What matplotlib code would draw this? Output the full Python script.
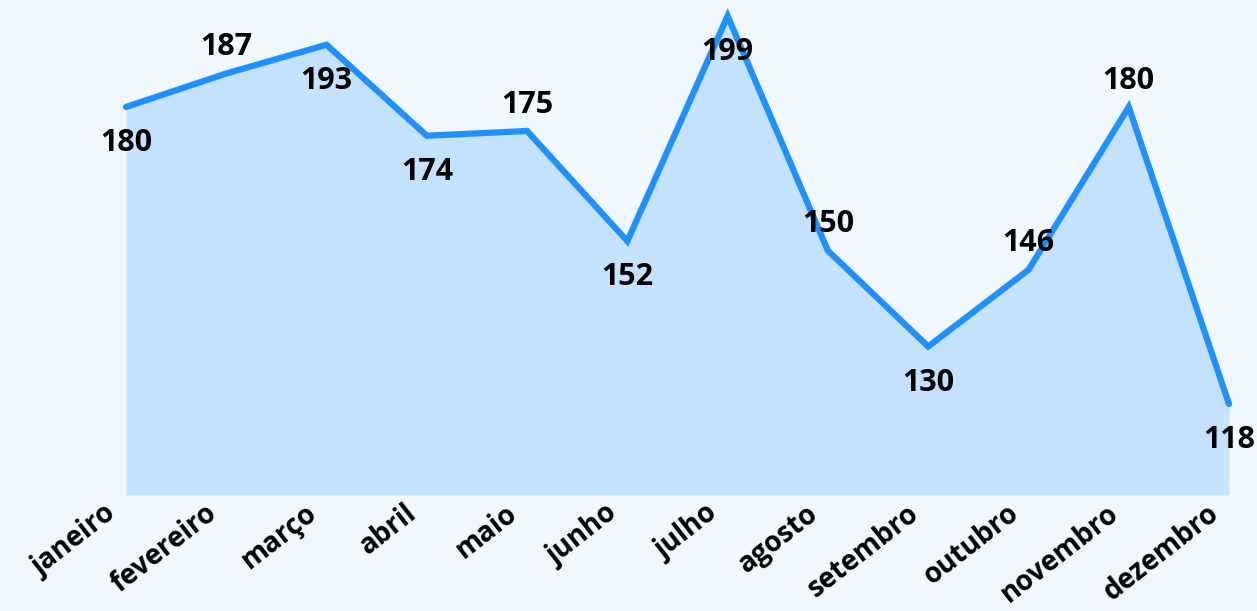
import matplotlib.pyplot as plt
from matplotlib.transforms import ScaledTranslation

meses = ["janeiro", "fevereiro", "março", "abril", "maio", "junho",
         "julho", "agosto", "setembro", "outubro", "novembro", "dezembro"]
valores = [180, 187, 193, 174, 175, 152, 199, 150, 130, 146, 180, 118]
# posicao do rotulo: -1 abaixo do ponto, 1 acima
lado = [-1, 1, -1, -1, 1, -1, -1, 1, -1, 1, 1, -1]

plt.rcParams['font.family'] = ['Open Sans', 'DejaVu Sans']

fig = plt.figure(figsize=(12.57, 6.11), dpi=100)
fig.patch.set_facecolor("#F0F7FF")
ax = fig.add_axes([126 / 1257, 1 - 495 / 611, (1229 - 126) / 1257, (495 - 16) / 611])
ax.set_facecolor("#F0F7FF")

x = list(range(len(meses)))
ax.fill_between(x, valores, 99, color="#C4E1FD", lw=0)
ax.plot(x, valores, color="#1E90FF", lw=4.5, solid_capstyle="round",
        solid_joinstyle="miter", clip_on=False, zorder=3)

for i, v in enumerate(valores):
    dy = 19 if lado[i] > 0 else -26
    ax.annotate(str(v), (i, v), xytext=(0, dy), textcoords="offset points",
                ha="center", va="center", fontsize=22, fontweight="bold",
                color="black", zorder=4, annotation_clip=False)

ax.set_xlim(0, 11)
ax.set_ylim(99, 199)
ax.set_xticks(x)
ax.set_xticklabels(meses, rotation=38, ha="right", va="center",
                   rotation_mode="anchor", fontsize=20, fontweight="bold")
ax.tick_params(axis="x", length=0, pad=11)
desloc = ScaledTranslation(-13 / 100, 0, fig.dpi_scale_trans)
for t in ax.get_xticklabels():
    t.set_transform(t.get_transform() + desloc)
ax.set_yticks([])
for s in ax.spines.values():
    s.set_visible(False)

fig.savefig("out.png", dpi=100, facecolor=fig.get_facecolor())
